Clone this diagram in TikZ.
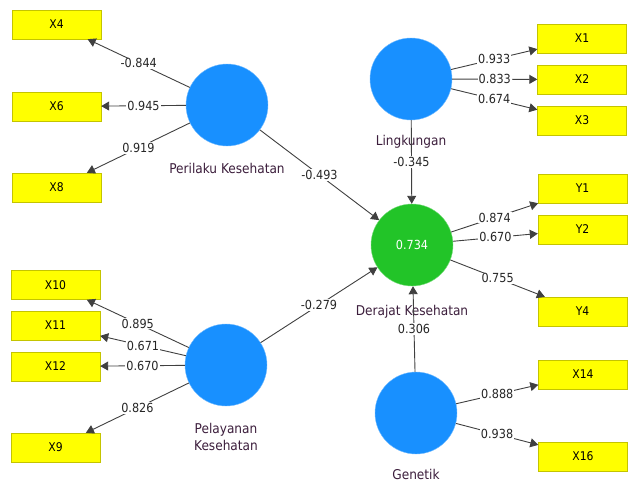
\documentclass[tikz,border=0pt]{standalone}
\usepackage{fontspec}
\setmainfont{DejaVu Sans Condensed}
\usetikzlibrary{arrows.meta}

\definecolor{lvblue}{RGB}{24,144,255}
\definecolor{lvgreen}{RGB}{34,196,40}
\definecolor{mvyellow}{RGB}{255,255,0}
\definecolor{mvborder}{RGB}{196,196,0}
\definecolor{lbltext}{RGB}{60,30,60}

\begin{document}
\begin{tikzpicture}[x=1pt,y=-1pt,
  latent/.style={circle,fill=lvblue,draw=lvblue!60!white,minimum size=82pt,inner sep=0pt},
  item/.style={rectangle,fill=mvyellow,draw=mvborder,minimum width=89pt,minimum height=29pt,inner sep=0pt,font=\fontsize{12}{14}\selectfont},
  load/.style={fill=white,inner sep=1pt,font=\fontsize{12.5}{14}\selectfont,text=black!85},
  lvlabel/.style={font=\fontsize{13.5}{17}\selectfont,text=lbltext,align=center,inner sep=1pt},
  link/.style={draw=black!75,line width=0.9pt,-{Triangle[length=8pt,width=9pt]}}]
  % Fix the canvas
  \useasboundingbox (0,0) rectangle (629,482);

  % Latent variables
  \node[latent] (per) at (227,105) {};
  \node[latent] (ling) at (411,79) {};
  \node[latent,fill=lvgreen,draw=lvgreen!60!white,text=white,font=\fontsize{12.5}{14}\selectfont] (der) at (412,245) {0.734};
  \node[latent] (pel) at (226,365) {};
  \node[latent] (gen) at (416,413) {};

  % Their names
  \node[lvlabel] (perName) at (227,168) {Perilaku Kesehatan};
  \node[lvlabel] (lingName) at (411,142) {Lingkungan};
  \node[lvlabel] (derName) at (412,312) {Derajat Kesehatan};
  \node[lvlabel] (pelName) at (226,437) {Pelayanan\\Kesehatan};
  \node[lvlabel] (genName) at (416,474) {Genetik};

  % Indicators
  \node[item] (x4) at (56.5,24.5) {X4};
  \node[item] (x6) at (56.5,106.5) {X6};
  \node[item] (x8) at (56.5,187.5) {X8};
  \node[item] (x10) at (55.5,285) {X10};
  \node[item] (x11) at (55.5,325.5) {X11};
  \node[item] (x12) at (55.5,366.5) {X12};
  \node[item] (x9) at (55.5,447.5) {X9};
  \node[item] (x1) at (582,38.5) {X1};
  \node[item] (x2) at (582,79.5) {X2};
  \node[item] (x3) at (582,120.5) {X3};
  \node[item] (y1) at (582.5,188.5) {Y1};
  \node[item] (y2) at (582.5,229.5) {Y2};
  \node[item] (y4) at (582.5,311.5) {Y4};
  \node[item] (x14) at (583,374.5) {X14};
  \node[item] (x16) at (583,456.5) {X16};

  % Outer loadings
  \draw[link] (per) -- (x4) node[load,midway] {-0.844};
  \draw[link] (per) -- (x6) node[load,midway] {0.945};
  \draw[link] (per) -- (x8) node[load,midway] {0.919};
  \draw[link] (pel) -- (x10) node[load,midway] {0.895};
  \draw[link] (pel) -- (x11) node[load,midway] {0.671};
  \draw[link] (pel) -- (x12) node[load,midway] {0.670};
  \draw[link] (pel) -- (x9) node[load,midway] {0.826};
  \draw[link] (ling) -- (x1) node[load,midway] {0.933};
  \draw[link] (ling) -- (x2) node[load,midway] {0.833};
  \draw[link] (ling) -- (x3) node[load,midway] {0.674};
  \draw[link] (der) -- (y1) node[load,midway] {0.874};
  \draw[link] (der) -- (y2) node[load,midway] {0.670};
  \draw[link] (der) -- (y4) node[load,midway] {0.755};
  \draw[link] (gen) -- (x14) node[load,midway] {0.888};
  \draw[link] (gen) -- (x16) node[load,midway] {0.938};

  % Path coefficients
  \draw[link] (per) -- (der) node[load,midway] {-0.493};
  \draw[link] (pel) -- (der) node[load,midway] {-0.279};
  \draw[link] (ling) -- (der) node[load,midway] {-0.345};
  \draw[link] (gen) -- (der) node[load,midway] {0.306};
\end{tikzpicture}
\end{document}
